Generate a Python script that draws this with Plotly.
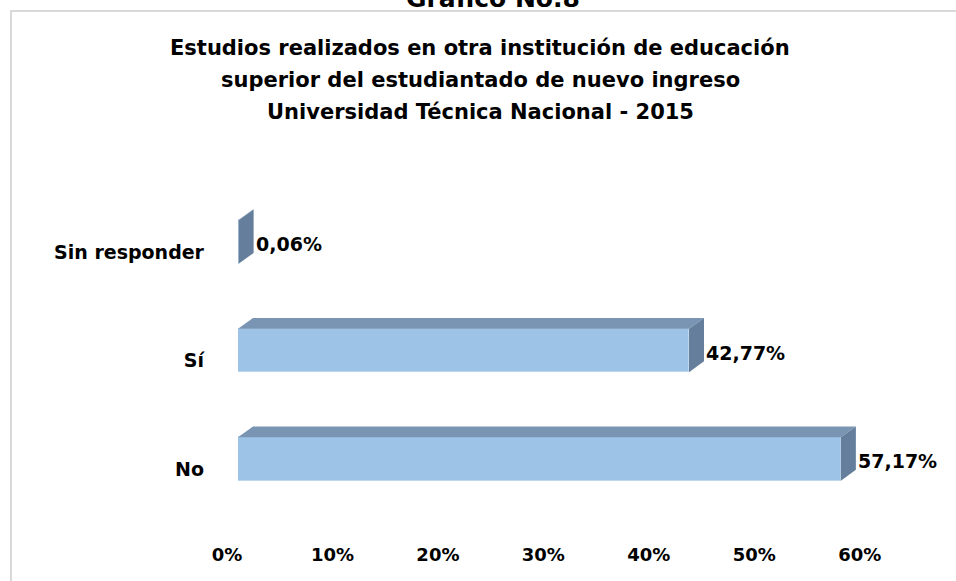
import plotly.graph_objects as go

categories = ["No", "Sí", "Sin responder"]
values = [57.17, 42.77, 0.06]
x_tick_vals = [0, 10, 20, 30, 40, 50, 60]
x_tick_text = ["0%", "10%", "20%", "30%", "40%", "50%", "60%"]
title_lines = [
    "Estudios realizados en otra institución de educación",
    "superior del estudiantado de nuevo ingreso",
    "Universidad Técnica Nacional - 2015",
]
header_text = "Gráfico No.8"

FRONT = "#9DC3E6"
TOP = "#7A95B3"
SIDE = "#647E9B"
FONT = "DejaVu Sans"

bar_w = 0.40
dx = 1.42   # depth offset in x units
dy = 0.10   # depth offset in category units

W, H = 956, 581
plot_left, plot_right = 238, 934
plot_top, plot_bot = 177, 524

def px2paper(px):
    return (px - plot_left) / (plot_right - plot_left)

def py2paper(py):
    return (plot_bot - py) / (plot_bot - plot_top)

fig = go.Figure()
pos = list(range(len(categories)))

# front faces
fig.add_trace(go.Bar(
    x=values, y=pos, orientation="h", width=bar_w,
    marker=dict(color=FRONT, line=dict(color="#BDD7EE", width=1)),
    hoverinfo="skip", showlegend=False,
))

# top and side faces (3D effect)
for c, v in zip(pos, values):
    top = c + bar_w / 2
    bot = c - bar_w / 2
    fig.add_trace(go.Scatter(
        x=[0, v, v + dx, dx, 0], y=[top, top, top + dy, top + dy, top],
        fill="toself", fillcolor=TOP, mode="lines", line=dict(width=0, color=TOP),
        hoverinfo="skip", showlegend=False,
    ))
    fig.add_trace(go.Scatter(
        x=[v, v + dx, v + dx, v, v], y=[bot, bot + dy, top + dy, top, bot],
        fill="toself", fillcolor=SIDE, mode="lines", line=dict(width=0, color=SIDE),
        hoverinfo="skip", showlegend=False,
    ))
    fig.add_annotation(
        x=v + dx, y=c, xref="x", yref="y", xanchor="left", yanchor="middle",
        text=f"{v:.2f}%".replace(".", ","), showarrow=False, xshift=0, yshift=-2,
        font=dict(family=FONT, size=19, color="#000000", weight="bold"),
    )

for i, line in enumerate(title_lines):
    fig.add_annotation(
        x=px2paper(480), y=py2paper(48 + 32 * i), xref="paper", yref="paper",
        xanchor="center", yanchor="middle", text=line, showarrow=False,
        font=dict(family=FONT, size=21, color="#000000", weight="bold"),
    )

fig.add_annotation(
    x=px2paper(493), y=py2paper(-2), xref="paper", yref="paper",
    xanchor="center", yanchor="middle", text=header_text, showarrow=False,
    font=dict(family=FONT, size=25, color="#000000", weight="bold"),
)

# chart border
fig.add_shape(
    type="rect", xref="paper", yref="paper",
    x0=px2paper(11), x1=1.2, y0=-0.3, y1=py2paper(11),
    line=dict(color="#D9D9D9", width=2), fillcolor="rgba(0,0,0,0)", layer="below",
)

fig.update_layout(
    width=W, height=H,
    margin=dict(l=plot_left, r=W - plot_right, t=plot_top, b=H - plot_bot, autoexpand=False),
    paper_bgcolor="white", plot_bgcolor="white",
    bargap=0,
    xaxis=dict(
        range=[0, 66], tickvals=x_tick_vals, ticktext=x_tick_text,
        showgrid=False, zeroline=False, showline=False, ticks="",
        ticklabelshift=-11, ticklabelstandoff=18,
        tickfont=dict(family=FONT, size=18, color="#000000", weight="bold"),
        fixedrange=True,
    ),
    yaxis=dict(
        range=[-0.6, 2.6], tickvals=pos, ticktext=categories,
        showgrid=False, zeroline=False, showline=False, ticks="",
        ticklabelshift=10, ticklabelstandoff=33,
        tickfont=dict(family=FONT, size=19, color="#000000", weight="bold"),
        fixedrange=True,
    ),
)

fig.write_html(
    "out.html",
    config={"displayModeBar": False},
    post_script="document.body.style.margin='0';document.body.style.overflow='hidden';",
)
